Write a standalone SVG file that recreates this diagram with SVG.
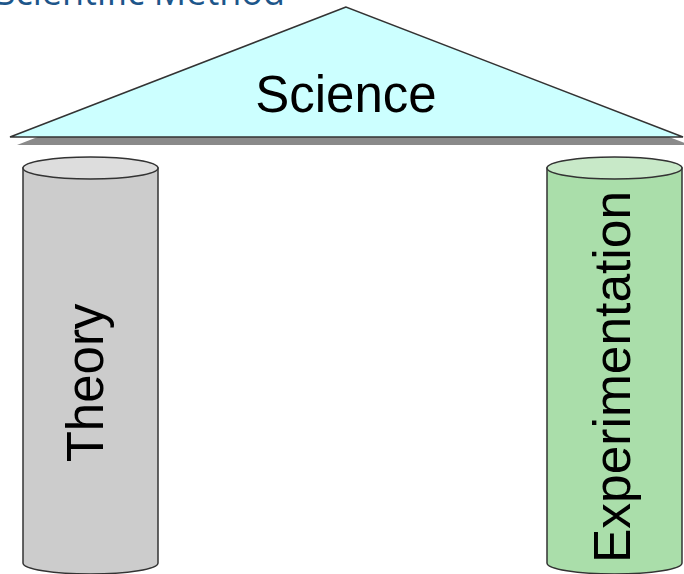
<svg xmlns="http://www.w3.org/2000/svg" width="684" height="574" viewBox="0 0 684 574">
  <style>
    .outline { stroke: #333333; stroke-width: 1.5; }
    .label { font-family: "Liberation Sans", Arial, sans-serif; font-size: 51px; fill: #000000; }
    .title { font-family: "Open Sans", "Liberation Sans", sans-serif; font-size: 36px; fill: #1d568a; }
  </style>
  <rect width="684" height="574" fill="#ffffff"/>

  <!-- slide title, partly above the visible area -->
  <text class="title" x="285" y="5" text-anchor="end">Scientific Method</text>

  <!-- roof -->
  <g id="science">
    <polygon points="353,15 17,145 690,145" fill="#8a8a8a"/>
    <polygon class="outline" points="346,7 10,137 683,137" fill="#ccffff"/>
    <text class="label" x="346" y="112" text-anchor="middle">Science</text>
  </g>

  <!-- left pillar -->
  <g id="theory">
    <path class="outline" d="M23,168 L23,563 A67.5,11 0 0 0 158,563 L158,168 Z" fill="#cccccc"/>
    <ellipse class="outline" cx="90.5" cy="168" rx="67.5" ry="11" fill="#dddddd"/>
    <text class="label" transform="translate(103,383) rotate(-90)" text-anchor="middle">Theory</text>
  </g>

  <!-- right pillar -->
  <g id="experimentation">
    <path class="outline" d="M547,168 L547,563 A67.5,11 0 0 0 682,563 L682,168 Z" fill="#aadeaa"/>
    <ellipse class="outline" cx="614.5" cy="168" rx="67.5" ry="11" fill="#c8e9c8"/>
    <text class="label" transform="translate(630,377) rotate(-90)" text-anchor="middle" style="font-size:51.5px">Experimentation</text>
  </g>

  <g id="connectors"/>
</svg>
